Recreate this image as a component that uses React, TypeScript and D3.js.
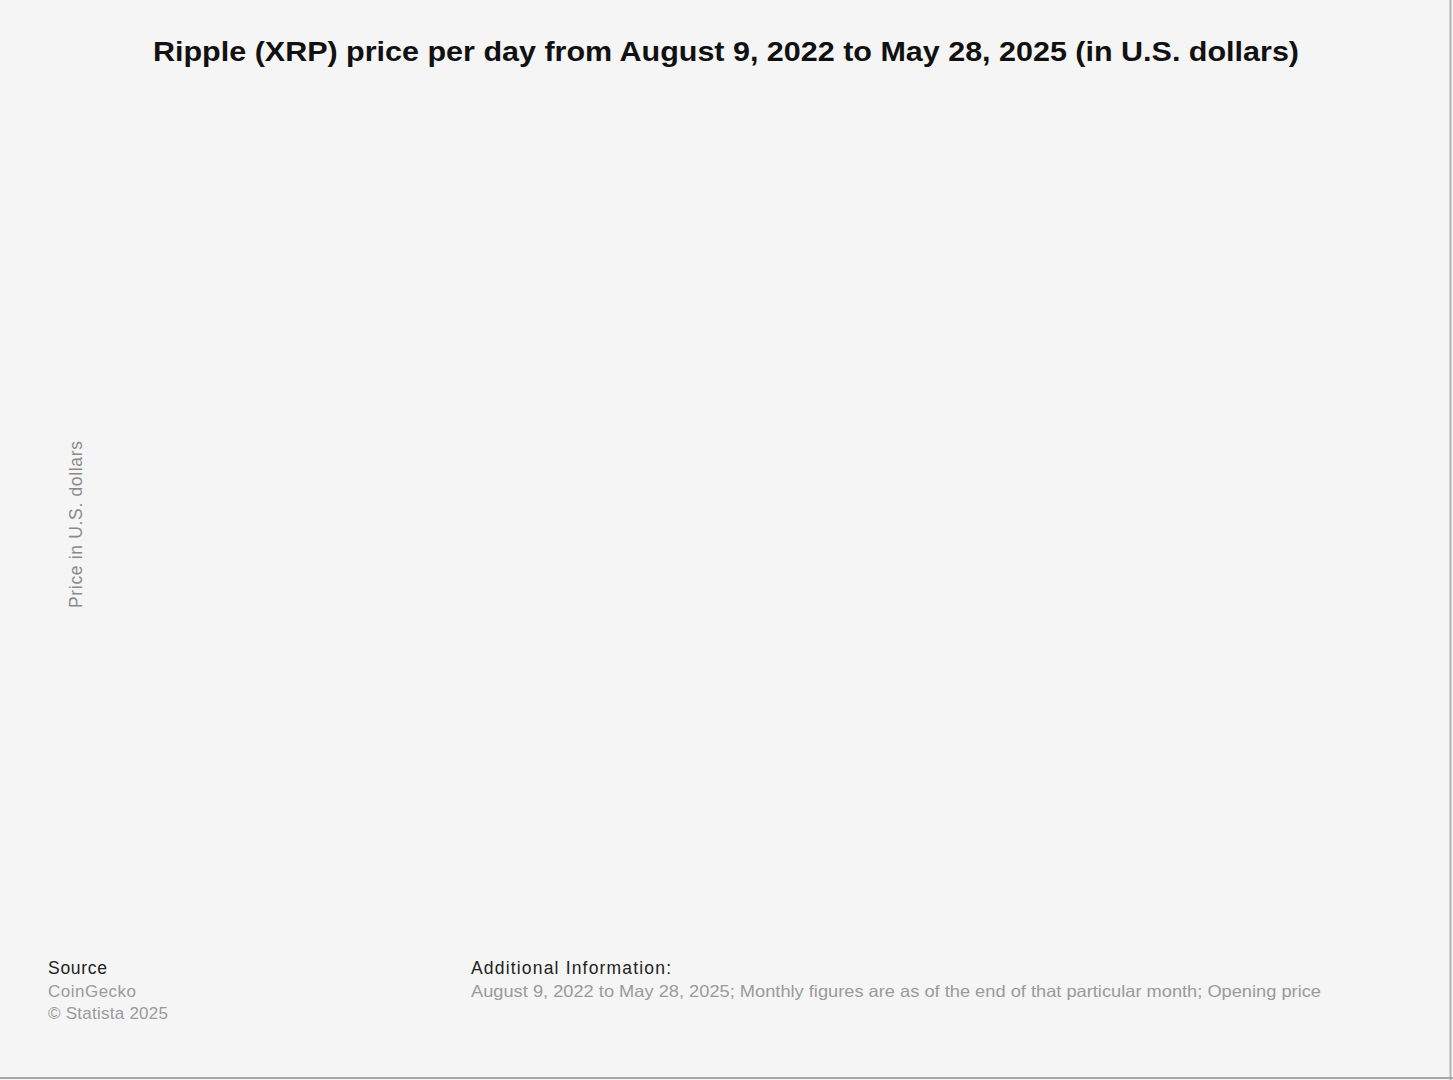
import React, {useEffect, useRef} from 'react';
import * as d3 from 'd3';

// chart texts
const titleText = 'Ripple (XRP) price per day from August 9, 2022 to May 28, 2025 (in U.S. dollars)';
const yAxisLabel = 'Price in U.S. dollars';
const sourceLines = ['CoinGecko', '\u00a9 Statista 2025'];
const sourceWidths = [88, 120];
const infoLines = ['August 9, 2022 to May 28, 2025; Monthly figures are as of the end of that particular month; Opening price'];

// the reference shows no plotted series
const dates: string[] = [];
const prices: number[] = [];

const W = 1453;
const H = 1080;

const App: React.FC = () => {
  const ref = useRef<SVGSVGElement>(null);

  useEffect(() => {
    const svg = d3.select(ref.current);
    svg.selectAll('*').remove();

    svg.append('rect').attr('width', W).attr('height', H).attr('fill', '#f5f5f5');

    // frame on right and bottom
    svg.append('line').attr('x1', W - 2.5).attr('x2', W - 2.5).attr('y1', 0).attr('y2', H)
        .attr('stroke', '#b4b4b4').attr('stroke-width', 2);
    svg.append('line').attr('x1', 0).attr('x2', W).attr('y1', H - 2).attr('y2', H - 2)
        .attr('stroke', '#a8a8a8').attr('stroke-width', 2);

    svg.append('text')
        .attr('x', 726).attr('y', 61)
        .attr('text-anchor', 'middle')
        .attr('font-family', '"Liberation Sans", Arial, sans-serif')
        .attr('font-weight', 'bold')
        .attr('font-size', 28)
        .attr('fill', '#111')
        .attr('textLength', 1146)
        .attr('lengthAdjust', 'spacingAndGlyphs')
        .text(titleText);

    // plot area (empty in reference)
    const x = d3.scaleTime().domain([new Date(2022, 7, 9), new Date(2025, 4, 28)]).range([110, 1420]);
    const y = d3.scaleLinear().domain([0, 3.5]).range([900, 110]);
    const line = d3.line<number>()
        .x((_, i) => x(new Date(dates[i])))
        .y(d => y(d));
    if (prices.length) {
      svg.append('path').attr('d', line(prices) || '').attr('fill', 'none').attr('stroke', '#0f5ca8');
    }

    svg.append('text')
        .attr('transform', 'translate(82,524.5) rotate(-90)')
        .attr('text-anchor', 'middle')
        .attr('font-family', '"Liberation Sans", Arial, sans-serif')
        .attr('font-size', 17.5)
        .attr('fill', '#8a8a8a')
        .attr('textLength', 167)
        .attr('lengthAdjust', 'spacing')
        .text(yAxisLabel);

    const foot = svg.append('g')
        .attr('font-family', '"Liberation Sans", Arial, sans-serif');

    foot.append('text').attr('x', 48).attr('y', 974)
        .attr('font-size', 17.5).attr('fill', '#222')
        .attr('textLength', 59).attr('lengthAdjust', 'spacing')
        .text('Source');
    sourceLines.forEach((s, i) => {
      foot.append('text').attr('x', 48).attr('y', 997 + i * 22)
          .attr('font-size', 17).attr('fill', '#9a9a9a')
          .attr('textLength', sourceWidths[i]).attr('lengthAdjust', 'spacing')
          .text(s);
    });

    foot.append('text').attr('x', 471).attr('y', 974)
        .attr('font-size', 17.5).attr('fill', '#222')
        .attr('textLength', 200).attr('lengthAdjust', 'spacing')
        .text('Additional Information:');
    infoLines.forEach((s, i) => {
      foot.append('text').attr('x', 471).attr('y', 997 + i * 22)
          .attr('font-size', 16.5).attr('fill', '#9a9a9a')
          .attr('textLength', 850).attr('lengthAdjust', 'spacingAndGlyphs')
          .text(s);
    });
  }, []);

  return (
      <svg ref={ref} width={W} height={H}
           style={{position: 'fixed', left: 0, top: 0, display: 'block'}}/>
  );
};

export default App;
